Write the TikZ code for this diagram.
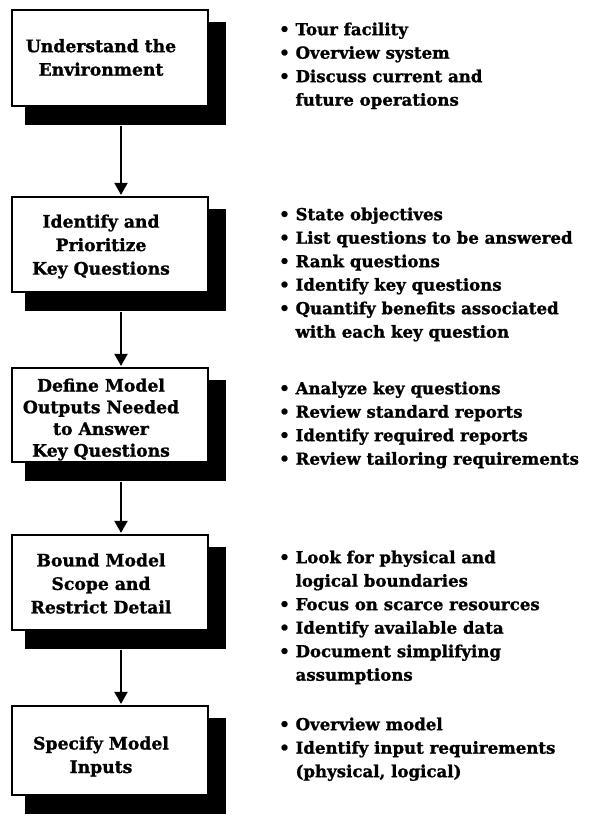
\documentclass[tikz,border=0pt]{standalone}
\usepackage{fontspec}
\setmainfont{DejaVu Serif}[BoldFeatures={FakeBold=1.2}]
\usetikzlibrary{arrows.meta,backgrounds}
\begin{document}
\begin{tikzpicture}[x=1pt,y=-1pt,
  stepbox/.style={draw=black,fill=white,line width=2.2pt,minimum width=196pt,inner sep=0pt},
  boxtext/.style={align=center,inner sep=0pt,font=\bfseries\fontsize{17.2}{23.5}\selectfont},
  itemtext/.style={align=left,inner sep=0pt,anchor=north west,font=\bfseries\fontsize{16.6}{23.5}\selectfont},
  shadow/.style={fill=black},
  arr/.style={line width=2pt,-{Triangle[width=13pt,length=12pt]}}]
\useasboundingbox (0,0) rectangle (591,816);
\newcommand{\hb}{\hphantom{\textbullet~}}
% boxes
\node[stepbox,minimum height=96pt] (b1) at (110,58) {};
\node[stepbox,minimum height=95pt] (b2) at (110,244.5) {};
\node[stepbox,minimum height=94pt] (b3) at (110,415) {};
\node[stepbox,minimum height=95pt] (b4) at (110,582.5) {};
\node[stepbox,minimum height=89pt] (b5) at (110,750.5) {};
\begin{scope}[on background layer]
\foreach \b in {b1,b2,b3,b4,b5}{
  \fill[shadow] ([xshift=14pt,yshift=-13pt]\b.north west) rectangle ([xshift=17pt,yshift=-18pt]\b.south east);
}
\end{scope}
\node[boxtext] (t1) at (101,57.5) {Understand the\\Environment};
\node[boxtext] (t2) at (101,246.5) {Identify and\\Prioritize\\Key Questions};
\node[boxtext,font=\bfseries\fontsize{17.2}{21.7}\selectfont] (t3) at (101,419.5) {Define Model\\Outputs Needed\\to Answer\\Key Questions};
\node[boxtext] (t4) at (101,583.5) {Bound Model\\Scope and\\Restrict Detail};
\node[boxtext] (t5) at (101,756.5) {Specify Model\\Inputs};
% arrows
\draw[arr] ([xshift=11pt,yshift=-19pt]b1.south) -- ([xshift=11pt,yshift=1pt]b2.north);
\draw[arr] ([xshift=11pt,yshift=-19pt]b2.south) -- ([xshift=11pt,yshift=1pt]b3.north);
\draw[arr] ([xshift=11pt,yshift=-19pt]b3.south) -- ([xshift=11pt,yshift=1pt]b4.north);
\draw[arr] ([xshift=11pt,yshift=-19pt]b4.south) -- ([xshift=11pt,yshift=1pt]b5.north);
% item lists
\node[itemtext] (l1) at (279,35-16.45) {\strut\textbullet~Tour facility\\\textbullet~Overview system\\\textbullet~Discuss current and\\\hb future operations};
\node[itemtext] (l2) at (279,220-16.45) {\strut\textbullet~State objectives\\\textbullet~List questions to be answered\\\textbullet~Rank questions\\\textbullet~Identify key questions\\\textbullet~Quantify benefits associated\\\hb with each key question};
\node[itemtext] (l3) at (279,394-16.45) {\strut\textbullet~Analyze key questions\\\textbullet~Review standard reports\\\textbullet~Identify required reports\\\textbullet~Review tailoring requirements};
\node[itemtext] (l4) at (279,563-16.45) {\strut\textbullet~Look for physical and\\\hb logical boundaries\\\textbullet~Focus on scarce resources\\\textbullet~Identify available data\\\textbullet~Document simplifying\\\hb assumptions};
\node[itemtext] (l5) at (279,730-16.45) {\strut\textbullet~Overview model\\\textbullet~Identify input requirements\\\hb(physical, logical)};
\end{tikzpicture}
\end{document}
